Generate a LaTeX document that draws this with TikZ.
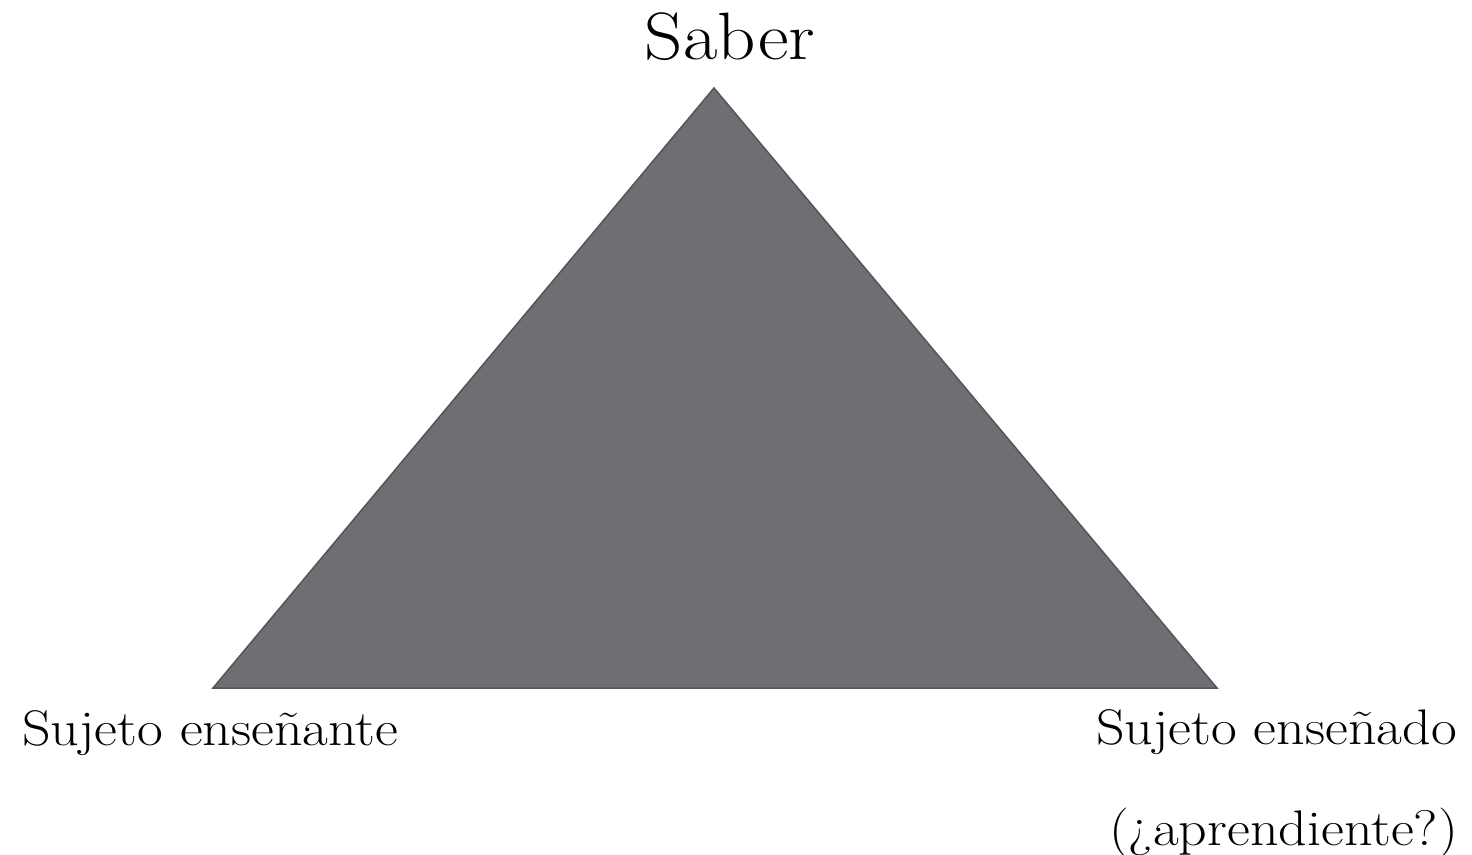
\documentclass[tikz,border=0pt]{standalone}
\usepackage{fontspec}
\setmainfont[FakeStretch=1.12]{Latin Modern Roman}
\definecolor{trifill}{HTML}{6F6E73}
\definecolor{triedge}{HTML}{55545A}
\tikzset{
  big/.style={font=\fontsize{67}{80}\selectfont, inner sep=0pt},
  lbl/.style={font=\fontsize{50}{60}\selectfont, inner sep=0pt},
}
\begin{document}
\begin{tikzpicture}[x=1pt,y=-1pt]
\useasboundingbox (0,0) rectangle (1472,854);
\coordinate (top) at (714,88);
\coordinate (bl) at (213,688);
\coordinate (br) at (1217,688);
\filldraw[fill=trifill, draw=triedge, line width=1.5pt, line join=miter] (top) -- (br) -- (bl) -- cycle;
\node[big, anchor=base] (saber) at (730,59) {Saber};
\node[lbl, anchor=base west] (ense) at (22,745) {Sujeto enseñante};
\node[lbl, anchor=base east] (ensd) at (1457,744) {Sujeto enseñado};
\node[lbl, anchor=base east] (apr) at (1458,845) {(¿aprendiente?)};
\end{tikzpicture}
\end{document}
